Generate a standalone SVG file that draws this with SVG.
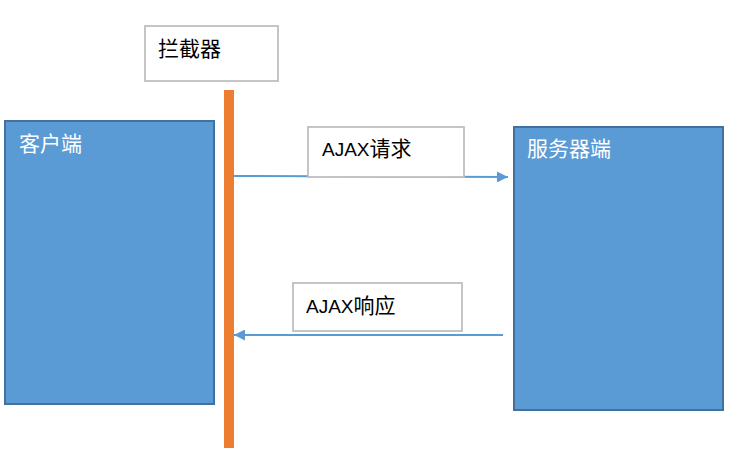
<svg xmlns="http://www.w3.org/2000/svg" width="750" height="463" viewBox="0 0 750 463">
<defs>
<style>
.node{fill:#5B9BD5;stroke:#41719C;stroke-width:2}
.label{fill:#FFFFFF;stroke:#BFBFBF;stroke-width:1.8}
.t{font-family:"Liberation Sans","Noto Sans CJK SC",sans-serif;font-size:19px}
.c{font-size:21px}
.w{fill:#FFFFFF}
.k{fill:#000000}
.conn{stroke:#5B9BD5;stroke-width:2;fill:none}
</style>
<marker id="ah" viewBox="0 0 10 10" refX="10" refY="5" markerWidth="5.5" markerHeight="5.5" markerUnits="strokeWidth" orient="auto">
<path d="M0,0 L10,5 L0,10 z" fill="#5B9BD5"/>
</marker>
</defs>
<rect width="750" height="463" fill="#FFFFFF"/>
<g id="client">
<rect class="node" x="5" y="121" width="209" height="283"/>
<text class="t c w" x="19" y="151">客户端</text>
</g>
<g id="server">
<rect class="node" x="514" y="127" width="209" height="283"/>
<text class="t c w" x="527" y="156">服务器端</text>
</g>
<g id="interceptor">
<rect x="224" y="90" width="10" height="358" fill="#ED7D31"/>
<rect class="label" x="145" y="26" width="133" height="55"/>
<text class="t c k" x="158" y="56">拦截器</text>
</g>
<g id="connectors">
<line class="conn" x1="234" y1="176" x2="508" y2="177" marker-end="url(#ah)"/>
<line class="conn" x1="503" y1="335" x2="234" y2="335" marker-end="url(#ah)"/>
</g>
<g id="label-request">
<rect class="label" x="308" y="127" width="156" height="50"/>
<text class="t k" x="322" y="156">AJAX<tspan class="c">请求</tspan></text>
</g>
<g id="label-response">
<rect class="label" x="293" y="283" width="169" height="48"/>
<text class="t k" x="306" y="313">AJAX<tspan class="c">响应</tspan></text>
</g>
</svg>
